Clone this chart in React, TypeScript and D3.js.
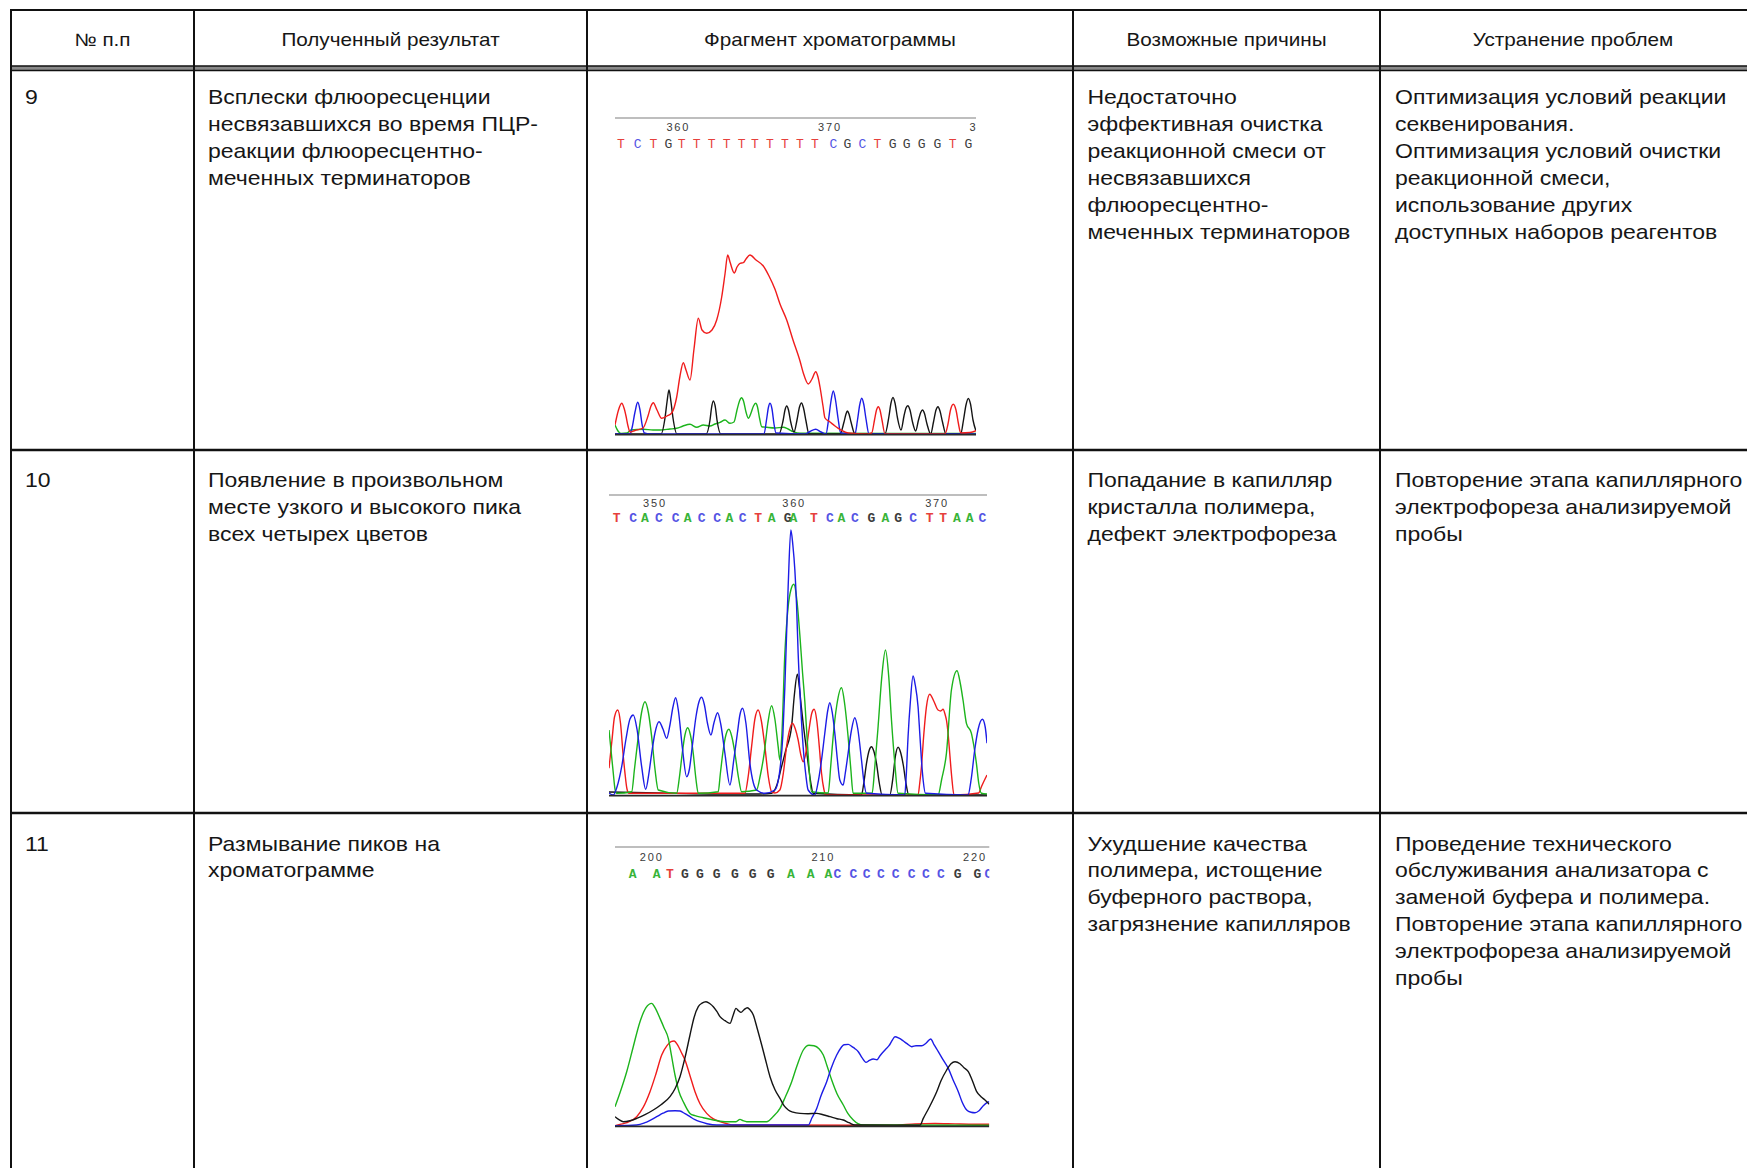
import React from 'react';
import * as d3 from 'd3';

type Pt = [number, number];

// ---------------- table text ----------------
const headerLabels = ['№ п.п', 'Полученный результат', 'Фрагмент хроматограммы', 'Возможные причины', 'Устранение проблем'];
const rowNumbers = ['9', '10', '11'];
const resultLines = [
  ['Всплески флюоресценции', 'несвязавшихся во время ПЦР-', 'реакции флюоресцентно-', 'меченных терминаторов'],
  ['Появление в произвольном', 'месте узкого и высокого пика', 'всех четырех цветов'],
  ['Размывание пиков на', 'хроматограмме'],
];
const causeLines = [
  ['Недостаточно', 'эффективная очистка', 'реакционной смеси от', 'несвязавшихся', 'флюоресцентно-', 'меченных терминаторов'],
  ['Попадание в капилляр', 'кристалла полимера,', 'дефект электрофореза'],
  ['Ухудшение качества', 'полимера, истощение', 'буферного раствора,', 'загрязнение капилляров'],
];
const fixLines = [
  ['Оптимизация условий реакции', 'секвенирования.', 'Оптимизация условий очистки', 'реакционной смеси,', 'использование других', 'доступных наборов реагентов'],
  ['Повторение этапа капиллярного', 'электрофореза анализируемой', 'пробы'],
  ['Проведение технического', 'обслуживания анализатора с', 'заменой буфера и полимера.', 'Повторение этапа капиллярного', 'электрофореза анализируемой', 'пробы'],
];

// ---------------- chromatogram 1 (row 9) ----------------
const c1TickPos = [63.3, 215, 366.5];
const c1TickLabels = ['360', '370', '380'];
const c1Bases = 'TCTGTTTTTTTTTTCGCTGGGGTG'.split('');
const c1BasePos = [6, 22.7, 38.3, 53.3, 66.7, 81.7, 96.7, 111.7, 126.7, 140, 155, 170, 185, 200, 218.3, 232.3, 247.3, 262.3, 277.7, 291.7, 306.7, 322.3, 337.7, 353.3];
const c1Red: Pt[] = [[0,9],[3.5,24],[6.7,30.7],[9,26],[11,18],[13,8],[15,2],[20,3.5],[28,6],[33,18],[36,28],[38.3,31.3],[42,24],[46.7,15.7],[52,18],[56.7,21],[61.7,37],[65,58],[68.3,71.3],[71,64],[75,54],[79,85],[83.3,115.7],[87,104],[91.7,100.7],[97,104],[101.7,114],[106.7,137],[110,160],[112.7,179],[115,172],[119.3,161],[122,167],[125,170.7],[128.3,171.3],[131,175],[135,179],[141,174],[148.3,168],[154,158],[160,144.7],[165,130],[171.7,114],[178,94],[185,73],[188.3,61],[193.3,50],[197,55],[200.7,62.3],[203,57],[205,47],[208,28],[210,16],[215,12],[220,8],[223.3,5.7],[230,2],[233.3,1],[252,0],[256.7,1],[259.5,14],[261.5,24],[263.3,27.3],[265,24],[267,14],[270,0],[330,0],[333,10],[335.5,24],[338.3,29.7],[341,24],[343.5,10],[345.7,1],[355,1.5],[361,3.3]];
const c1Blue: Pt[] = [[0,0],[15,0],[17,6],[20,22],[22.7,31.7],[25,24],[27,10],[29.3,1],[35,0],[149,0],[151.5,14],[153.5,27],[155,30.7],[157,25],[159,10],[161,1],[190,0],[195,2.5],[200.7,4.7],[206,2],[211,0],[213.5,14],[216,33],[218.3,43],[220.5,34],[223,16],[225.7,1],[240,0],[242.5,14],[244.7,29],[246.7,35.7],[248.7,30],[251,15],[254,0],[361,0]];
const c1Black: Pt[] = [[0,0],[46,0],[50,16],[52,32],[54,44],[56,32],[58,16],[62,0],[91,0],[95,14],[96.5,26],[98.3,33],[100.5,26],[102,14],[106,0],[164,0],[168,13],[170,24],[171.7,28],[173.5,24],[175.5,13],[179,2],[182,14],[184.5,27],[186.5,31],[188.5,26],[191,13],[194,0],[225,0],[229,12],[231,20],[232.3,23],[234,20],[236,12],[240,0],[270,0],[274,18],[276,31],[278,36.5],[280,31],[282.5,16],[286,4],[289,18],[291,26],[292.8,28.3],[295,24],[297.5,12],[300.7,3],[303.5,14],[305.7,21.5],[307.5,24],[309.5,20.5],[312,10],[315.7,0],[318.5,12],[321,24],[323,27.3],[325,23],[327.5,12],[331,0],[345.7,0],[348.5,14],[351,29],[353.3,35.5],[355.5,30],[358,14],[361,3]];
const c1Green: Pt[] = [[0,9],[3,3],[6,0.5],[12,1],[16,4],[28.3,4.7],[38,4],[45,4],[55,5],[61.7,5.7],[68,8],[75,9.7],[81.7,6.7],[88.3,9],[95,8],[100,10],[105,11.7],[110,14],[115,10.7],[119,12],[122,24],[124.5,33],[126.5,36.3],[128.5,33],[131,22],[133.3,15.7],[136,21],[138.5,28],[140.7,30.7],[142.5,27],[144.5,16],[146.7,7.3],[151.7,6.7],[160,6],[168.3,6.7],[173,5],[178.3,2.3],[185,0.7],[361,0.5]];

// ---------------- chromatogram 2 (row 10) ----------------
const c2TickPos = [46, 185.3, 328.3];
const c2TickLabels = ['350', '360', '370'];
const c2Bases = 'TCACCACCACTAGATCACGAGCTTAAC'.split('');
const c2BasePos = [7.7, 24.3, 36, 50, 66.7, 78.7, 92.7, 108.3, 120.5, 133.7, 149.3, 162.7, 178.7, 184.5, 205, 221, 232.7, 246, 262.7, 276.7, 289.5, 304.3, 321, 334.3, 348.3, 361, 373.7];
const c2Red: Pt[] = [[0,26.7],[3,55],[5.5,78],[8.7,85],[11.5,72],[14,42],[16,21.7],[18,6],[20,1.7],[136,1.7],[139.5,20],[142.7,48.3],[146,76],[149.3,85],[152.5,74],[156,48.3],[159.5,18],[162.7,3.3],[166,2],[171,5],[174.5,22],[177.7,48.3],[181,66],[183.5,71.7],[186.5,66],[189.3,55],[192,40],[194.3,33.3],[197,42],[200,64],[203,82],[205.3,85.7],[208,74],[210.5,48],[212.7,21.7],[215,6],[216.7,0],[309.3,0],[311,12],[312.7,28.3],[315,60],[317.7,88.3],[321,100.7],[325,94],[329.3,85],[332,84],[334.3,85.7],[336.5,80],[337.7,75],[339.5,60],[341,41.7],[343,18],[345.3,0],[370,2],[372.7,8.3],[378.3,20]];
const c2Blue: Pt[] = [[0,2],[4.3,0],[8,8],[12.7,28.3],[17,56],[21,76],[24.3,80],[28,66],[32.7,28.3],[36.7,5.7],[40,22],[42.7,41.7],[46,62],[50,73.3],[54,66],[57.7,56.7],[61,70],[64,88],[66.7,97.3],[69.5,84],[73.3,48.3],[77.7,18.3],[80.5,26],[83.3,48.3],[87,78],[90,93],[92.7,97.7],[95.5,90],[98.5,72],[102,60],[105,72],[108.7,82.3],[112,70],[116,41.7],[121,10],[125,36],[128.5,62],[131,80],[133.7,86.7],[137,72],[141,31.7],[144.5,12],[147.7,5],[156,1.7],[166,5],[171,25],[174,60],[176,108.3],[179.3,208.3],[182,265],[184,250],[186,225],[187.7,190],[189.3,141.7],[191.5,95],[194.3,48.3],[197,20],[199.3,5],[206,0],[209.5,14],[212.7,35],[216,62],[219,85],[221,92.3],[223.5,82],[226,61.7],[228.5,36],[231,15],[234.3,10],[236.5,22],[239.3,41.7],[242.5,64],[246,77.3],[249,66],[252.7,35],[255,14],[257.7,1.7],[296,0],[297.5,20],[299.3,58.3],[301.5,92],[304.3,119],[306.5,110],[309.3,88.3],[311,62],[312.7,35],[314.5,14],[316.7,1.7],[359.3,0],[362.5,16],[366,45],[369.5,66],[373.7,75.7],[376.5,68],[378.3,51.7]];
const c2Green: Pt[] = [[0,65],[2,45],[4.3,21.7],[6,6],[7.7,1.7],[22.7,3.3],[25.5,26],[29.3,58.3],[32.5,82],[36,93.3],[39.5,82],[42.7,58.3],[46,26],[49.3,5],[67.7,1.7],[70.5,18],[73.3,41.7],[76,60],[78.7,67.3],[81.5,60],[84.3,41.7],[87,16],[89.3,1.7],[109.3,3.3],[111.5,22],[114.3,45],[117,60],[120,65.7],[123,58],[126,42],[129.5,18],[132.7,3.3],[147.7,5],[151.5,20],[155.3,41.7],[159,72],[162.7,89.3],[166,76],[169.3,48.3],[171,35],[173,60],[176,141.7],[179.3,188.3],[182,205],[185,210.7],[188,195],[191,160],[193.5,125],[196,93.3],[199,45],[202.7,3.3],[219.3,2],[222,30],[224.3,58.3],[228,90],[232.7,107.3],[236,90],[239.3,58.3],[242,26],[244.3,1.7],[263.3,1.7],[266,28],[269.3,68.3],[273,118],[276.7,145],[280,118],[282.7,75],[286,32],[289.3,1.7],[329.3,0],[333,16],[337.7,41.7],[342.7,105],[348.3,124.3],[351.5,112],[354.3,95],[357.7,71.7],[362.7,61.7],[365,50],[367.7,31.7],[370,12],[372.7,1.7],[378.3,1]];
const c2Black: Pt[] = [[0,3],[50,2],[100,1],[150,1],[162.7,1.7],[168,10],[172.7,28.3],[177,45],[182.7,68.3],[185.5,100],[188.5,120.7],[190.5,108],[192.5,88],[194.3,71.7],[197,50],[199.3,31.7],[202,12],[204.3,1.7],[252.7,0],[255,12],[257.7,31.7],[260.5,45],[262.7,48.3],[265,44],[267.7,31.7],[270.5,12],[273.3,0],[281,0],[284,16],[286.5,38],[289.3,47.7],[292,42],[294.5,30],[297.5,10],[300,0],[378,0]];

// ---------------- chromatogram 3 (row 11) ----------------
const c3TickPos = [36.7, 208.3, 360];
const c3TickLabels = ['200', '210', '220'];
const c3Bases = 'AATGGGGGGAAACCCCCCCCGGC'.split('');
const c3BasePos = [17.7, 41.7, 55, 70, 85, 101.7, 120, 137.7, 155.7, 176, 195.7, 213.3, 222.3, 238.3, 251.7, 266, 280.7, 296.7, 311, 326, 342.7, 362.3, 373.5];
const c3Green: Pt[] = [[0,19],[5,33],[11.7,54],[18,78],[25,104],[31,118],[36.7,122.3],[40,118],[45,107.3],[49,98],[53.3,87.3],[56.5,70],[60,50.7],[64,34],[68.3,24],[75,12.3],[80,10],[88.3,8],[98.3,5.7],[105,4.5],[115,4],[121,4],[125,6.3],[128,5],[131.7,4],[151.7,4],[158,9],[165,17.3],[170,28],[176.7,44],[182,60],[188.3,75.7],[194,80.5],[199,80],[204,77],[208.3,70.7],[212,60],[216.7,45.7],[222,32],[228.3,20.7],[233,12],[238.3,5.7],[243,2],[248.3,0.7],[374.3,0.5]];
const c3Red: Pt[] = [[0,0],[5,1.3],[12,3],[21.7,9],[28,18],[35,34],[41,52],[46.7,70.7],[52,80],[56,84],[59,84.7],[63,80],[66,74],[70,65.7],[75,50],[80,34],[85,22],[91.7,12.3],[98,7],[105,4],[112,2],[118.3,0.7],[280,0.5],[300,1.8],[320,2.2],[340,1.8],[360,1.5],[374.3,1.5]];
const c3Black: Pt[] = [[0,9],[4,6],[8.3,4],[15,5],[21.7,7.3],[30,11],[38.3,15.7],[46,21],[55,29],[60,37],[65,49],[70,68],[75,90.7],[79,108],[83.3,119],[87,122.5],[91,124],[95,122],[98.3,119],[102,114],[105,109],[110,105],[115,102.3],[118,110],[121,117.3],[123.5,115],[126,113.3],[129,116],[132.3,118],[135,116],[138.3,110.7],[142,98],[146.7,80.7],[150,68],[155,49],[160,36],[165,27.3],[169,20],[173.3,15.7],[178,13.5],[185,12.3],[193,12],[201.7,12.3],[208,11],[215,9],[222,7],[228.3,5.7],[234,3],[240,0.7],[305,0.5],[308.3,7.3],[314,18],[321.7,34],[326,45],[331.7,55.7],[336,62],[340,64],[345,62],[349,58],[353.3,54],[357,46],[361.7,34],[366,29],[370,25.7],[374.3,21.5]];
const c3Blue: Pt[] = [[0,0],[21.7,0.7],[30,3],[41.7,9],[48,12.5],[53.3,14.7],[60,15],[65,14.7],[70,12],[75,9],[80,6],[85,4],[92,2],[101.7,0.7],[193.3,0.7],[197,8],[201.7,17.3],[206,30],[211.7,44],[216,57],[221.7,70.7],[226,78],[229,81],[233.3,81.3],[237,79],[240,77],[243.3,74],[247,68],[251,63.3],[254,65],[258.3,66.7],[262,66],[265,70],[270,75.7],[274,80],[277,85],[280,89],[284,87.5],[288.3,84.7],[292,82],[296.7,79],[301,80],[306.7,80],[311,82.5],[315.7,86.7],[319,81],[323.3,74],[328,66],[333.3,57.3],[338,46],[343.3,34],[347,24],[351.7,15.7],[356,13.5],[360,13],[364,15],[368.3,20],[372,23],[374.3,24]];

// ---------------- styling / layout ----------------
const W = 1747;
const H = 1168;
const colX = [11, 194, 587, 1073, 1380, 1766];
const rowTop = [70, 450, 813];
const FONT = '"Liberation Sans", Arial, sans-serif';
const SX = 1.15;
const LINE_H = 27;

const traceColor: Record<string, string> = { red: '#f01c1c', blue: '#1c1ce6', green: '#1cb41c', black: '#141414' };
const baseColor: Record<string, string> = { T: '#e6403c', C: '#5454e4', G: '#3c3c3c', A: '#38b438' };

interface Geo { x0: number; x1: number; base: number; top: number; labelY: number; letterY: number; sMax: number; hMax: number; weight: string; }

const geos: Geo[] = [
  { x0: 615, x1: 976, base: 434, top: 118, labelY: 131, letterY: 147.5, sMax: 361, hMax: 180, weight: 'normal' },
  { x0: 609, x1: 987, base: 795, top: 495, labelY: 507, letterY: 522, sMax: 378.3, hMax: 265, weight: 'bold' },
  { x0: 615, x1: 989.3, base: 1125.7, top: 847, labelY: 861, letterY: 878, sMax: 374.3, hMax: 125, weight: 'bold' },
];

interface ChromProps {
  id: string;
  g: Geo;
  traces: { color: string; data: Pt[] }[];
  tickPos: number[];
  tickLabels: string[];
  bases: string[];
  basePos: number[];
}

function Chromatogram({ id, g, traces, tickPos, tickLabels, bases, basePos }: ChromProps) {
  const x = d3.scaleLinear().domain([0, g.sMax]).range([g.x0, g.x1]);
  const y = d3.scaleLinear().domain([0, g.hMax]).range([g.base, g.base - g.hMax]);
  const line = d3.line<Pt>().x((d) => x(d[0])).y((d) => y(d[1])).curve(d3.curveMonotoneX);
  return (
    <g>
      <defs>
        <clipPath id={id}>
          <rect x={g.x0} y={g.top - 6} width={g.x1 - g.x0} height={g.base - g.top + 10} />
        </clipPath>
      </defs>
      <line x1={g.x0} x2={g.x1} y1={g.top} y2={g.top} stroke="#a8a8a8" strokeWidth={1.6} />
      <g clipPath={`url(#${id})`}>
        {tickLabels.map((t, i) => (
          <text key={'t' + i} x={x(tickPos[i])} y={g.labelY} textAnchor="middle" fontFamily={FONT} fontSize={11} letterSpacing={1.8} fill="#3a3a3a">{t}</text>
        ))}
        {bases.map((b, i) => (
          <text key={'b' + i} x={x(basePos[i])} y={g.letterY} textAnchor="middle" fontFamily='"Liberation Mono", "DejaVu Sans Mono", monospace' fontSize={13} fontWeight={g.weight} fill={baseColor[b]}>{b}</text>
        ))}
        {traces.map((t, i) => (
          <path key={'p' + i} d={line(t.data) || ''} fill="none" stroke={traceColor[t.color]} strokeWidth={1.4} strokeLinejoin="round" />
        ))}
        <line x1={g.x0} x2={g.x1} y1={g.base + 0.6} y2={g.base + 0.6} stroke="#2a2a2a" strokeWidth={1.8} />
      </g>
    </g>
  );
}

function TextBlock({ x, y, lines }: { x: number; y: number; lines: string[] }) {
  return (
    <g transform={`translate(${x},${y}) scale(${SX},1)`}>
      {lines.map((l, i) => (
        <text key={i} x={0} y={i * LINE_H} fontFamily={FONT} fontSize={20} fill="#161616">{l}</text>
      ))}
    </g>
  );
}

export default function App() {
  const chromData = [
    { traces: [{ color: 'green', data: c1Green }, { color: 'black', data: c1Black }, { color: 'blue', data: c1Blue }, { color: 'red', data: c1Red }], tickPos: c1TickPos, tickLabels: c1TickLabels, bases: c1Bases, basePos: c1BasePos },
    { traces: [{ color: 'black', data: c2Black }, { color: 'red', data: c2Red }, { color: 'green', data: c2Green }, { color: 'blue', data: c2Blue }], tickPos: c2TickPos, tickLabels: c2TickLabels, bases: c2Bases, basePos: c2BasePos },
    { traces: [{ color: 'red', data: c3Red }, { color: 'green', data: c3Green }, { color: 'blue', data: c3Blue }, { color: 'black', data: c3Black }], tickPos: c3TickPos, tickLabels: c3TickLabels, bases: c3Bases, basePos: c3BasePos },
  ];
  const textX = [25, 208, 1087.5, 1395];
  const firstBaseline = [104, 487, 850.5];
  return (
    <div style={{ position: 'fixed', left: 0, top: 0, width: W, height: H, background: '#fff' }}>
      <svg width={W} height={H} viewBox={`0 0 ${W} ${H}`} style={{ display: 'block' }}>
        <rect x={0} y={0} width={W} height={H} fill="#fff" />
        {/* horizontal rules */}
        <line x1={colX[0]} x2={colX[5]} y1={10} y2={10} stroke="#111" strokeWidth={2} />
        <rect x={colX[0]} y={66} width={colX[5] - colX[0]} height={4} fill="#8a8a8a" />
        <line x1={colX[0]} x2={colX[5]} y1={66} y2={66} stroke="#111" strokeWidth={1.5} />
        <line x1={colX[0]} x2={colX[5]} y1={70.5} y2={70.5} stroke="#111" strokeWidth={1.5} />
        {rowTop.slice(1).map((yy, i) => (
          <line key={'h' + i} x1={colX[0]} x2={colX[5]} y1={yy} y2={yy} stroke="#111" strokeWidth={2.4} />
        ))}
        {/* vertical rules */}
        {colX.map((xx, i) => (
          <line key={'v' + i} x1={xx} x2={xx} y1={9} y2={H} stroke="#111" strokeWidth={2} />
        ))}
        {/* header */}
        {headerLabels.map((h, i) => (
          <g key={'hd' + i} transform={`translate(${(colX[i] + colX[i + 1]) / 2},46) scale(${SX},1)`}>
            <text x={0} y={0} textAnchor="middle" fontFamily={FONT} fontSize={18} fill="#161616">{h}</text>
          </g>
        ))}
        {/* rows */}
        {rowNumbers.map((n, r) => (
          <g key={'r' + r}>
            <TextBlock x={textX[0]} y={firstBaseline[r]} lines={[n]} />
            <TextBlock x={textX[1]} y={firstBaseline[r]} lines={resultLines[r]} />
            <TextBlock x={textX[2]} y={firstBaseline[r]} lines={causeLines[r]} />
            <TextBlock x={textX[3]} y={firstBaseline[r]} lines={fixLines[r]} />
            <Chromatogram id={'clip' + r} g={geos[r]} {...chromData[r]} />
          </g>
        ))}
      </svg>
    </div>
  );
}
